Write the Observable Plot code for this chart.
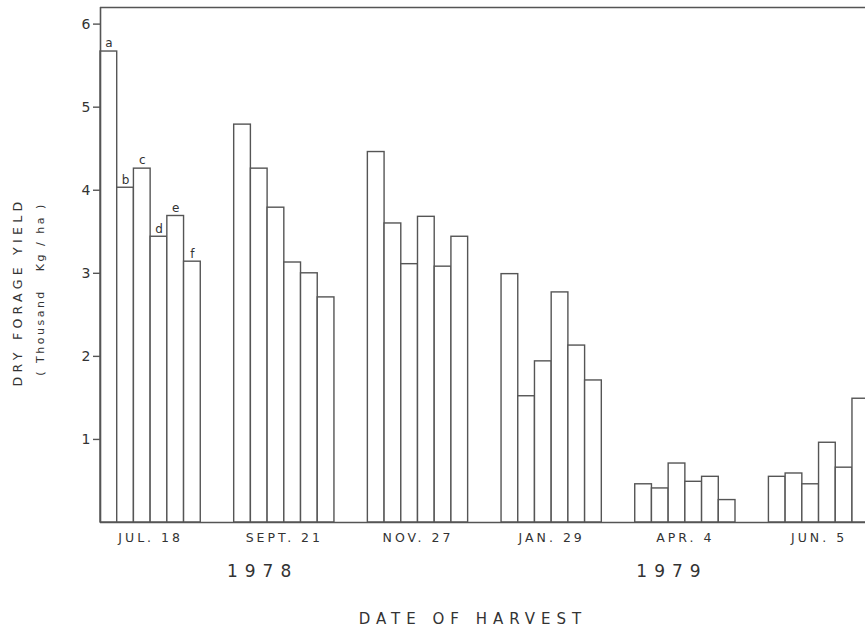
<!DOCTYPE html>
<html>
<head>
<meta charset="utf-8">
<script src="https://cdn.jsdelivr.net/npm/d3@7"></script>
<script src="https://cdn.jsdelivr.net/npm/@observablehq/plot@0.6"></script>
<style>
  html, body { margin: 0; padding: 0; background: #fff; overflow: hidden; }
  #chart { width: 865px; height: 630px; }
</style>
</head>
<body>
<div id="chart"></div>
<script>
// ---- data ----
const harvestDates = ["JUL. 18", "SEPT. 21", "NOV. 27", "JAN. 29", "APR. 4", "JUN. 5"];
const years = ["1978", "1979"];
const treatments = ["a", "b", "c", "d", "e", "f"];
const jul18 = [5.67, 4.03, 4.26, 3.44, 3.69, 3.14];
const sep21 = [4.79, 4.26, 3.79, 3.13, 3.00, 2.71];
const nov27 = [4.46, 3.60, 3.11, 3.68, 3.08, 3.44];
const jan29 = [2.99, 1.52, 1.94, 2.77, 2.13, 1.71];
const apr4  = [0.46, 0.41, 0.71, 0.49, 0.55, 0.27];
const jun5  = [0.55, 0.59, 0.46, 0.96, 0.66, 1.49];
const yTicks = [1, 2, 3, 4, 5, 6];
const yTitle = "DRY FORAGE YIELD";
const yUnits = "( Thousand   Kg / ha )";
const xTitle = "DATE OF HARVEST";

// ---- table built from arrays ----
const series = [jul18, sep21, nov27, jan29, apr4, jun5];
const slotsPerGroup = 8; // 6 bars + 2-bar gap
const bars = [];
series.forEach((vals, gi) => {
  vals.forEach((v, ti) => {
    bars.push({date: harvestDates[gi], t: treatments[ti], slot: gi * slotsPerGroup + ti, value: v});
  });
});
const firstGroup = bars.filter(d => d.date === harvestDates[0]);
const yearSlot = [9.7, 34.2]; // layout: centres of year labels in slot units

const ink = "#333";
const line = "#555";
const tag = s => () => s;

const chart = Plot.plot({
  width: 865,
  height: 630,
  marginLeft: 100,
  marginRight: 0,
  marginTop: 7,
  marginBottom: 108,
  style: {fontFamily: "'DejaVu Sans', sans-serif", color: ink, background: "#fff", overflow: "hidden"},
  x: {type: "linear", domain: [0, 45.78], axis: null},
  y: {domain: [0, 6.2], axis: null},
  marks: [
    Plot.rectY(bars, {x1: "slot", x2: d => d.slot + 1, y: "value", fill: "#fff", stroke: line, strokeWidth: 1.4}),
    Plot.ruleY([0], {stroke: line, strokeWidth: 1.6}),
    Plot.ruleY([6.2], {stroke: line, strokeWidth: 1.4}),
    Plot.ruleX([0], {stroke: line, strokeWidth: 1.6}),
    Plot.axisY({ticks: yTicks, tickSize: 7, tickPadding: 3, label: null, fontSize: 14, stroke: line, strokeWidth: 1.4, tickFormat: d => String(d)}),
    Plot.text(firstGroup, {x: d => d.slot + 0.5, y: "value", text: "t", dy: -8, fontSize: 12, fill: ink}),
    Plot.text(harvestDates, {x: (d, i) => i * slotsPerGroup + 3, frameAnchor: "bottom", dy: 19, text: d => d, fontSize: 12.5, fill: ink, ariaLabel: tag("date-labels")}),
    Plot.text(years, {x: (d, i) => yearSlot[i], frameAnchor: "bottom", dy: 54, text: d => d, fontSize: 17, fill: ink, ariaLabel: tag("year-labels")}),
    Plot.text([xTitle], {frameAnchor: "bottom", textAnchor: "middle", dy: 101, dx: -10, text: d => d, fontSize: 15, fill: ink, ariaLabel: tag("x-title")}),
    Plot.text([yTitle], {frameAnchor: "left", textAnchor: "middle", dx: -83, dy: 27, rotate: -90, text: d => d, fontSize: 12.5, fill: ink, ariaLabel: tag("y-title")}),
    Plot.text([yUnits], {frameAnchor: "left", textAnchor: "middle", dx: -60, dy: 24, rotate: -90, text: d => d, fontSize: 11, fill: ink, ariaLabel: tag("y-units")})
  ]
});
document.getElementById("chart").appendChild(chart);

const svg = d3.select(chart);
const spacing = (label, px) => svg.selectAll(`text[aria-label="${label}"]`).style("letter-spacing", px).style("white-space", "pre");
spacing("date-labels", "3px");
spacing("year-labels", "7px");
spacing("x-title", "6px");
spacing("y-title", "4.3px");
spacing("y-units", "2.5px");
</script>
</body>
</html>
